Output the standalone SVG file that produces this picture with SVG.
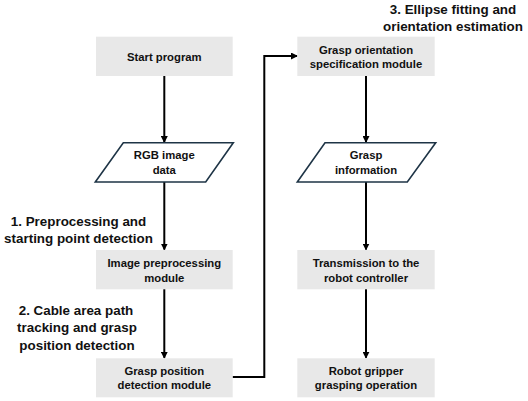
<svg xmlns="http://www.w3.org/2000/svg" width="528" height="401" viewBox="0 0 528 401">
<defs>
<marker id="ah" markerWidth="7" markerHeight="7" refX="6" refY="3.5" orient="auto" markerUnits="userSpaceOnUse">
<path d="M0,0 L7,3.5 L0,7 Z" fill="#000"/>
</marker>
<style>
.box{fill:#e8e8e8;}
.para{fill:#fff;stroke:#1e3446;stroke-width:1.6;}
.t{font-family:"Liberation Sans",Arial,sans-serif;font-weight:bold;font-size:11.3px;fill:#111;text-anchor:middle;dominant-baseline:central;}
.lab{font-family:"Liberation Sans",Arial,sans-serif;font-weight:bold;font-size:13.4px;fill:#111;text-anchor:middle;dominant-baseline:central;}
.c{fill:none;stroke:#000;stroke-width:2;}
</style>
</defs>
<rect width="528" height="401" fill="#fff"/>
<g id="connectors">
<line class="c" x1="164.3" y1="76" x2="164.3" y2="142" marker-end="url(#ah)"/>
<line class="c" x1="164.3" y1="182" x2="164.3" y2="249.5" marker-end="url(#ah)"/>
<line class="c" x1="164.3" y1="289" x2="164.3" y2="357.8" marker-end="url(#ah)"/>
<polyline class="c" points="232.5,377 264.3,377 264.3,56 297,56" marker-end="url(#ah)"/>
<line class="c" x1="366" y1="76" x2="366" y2="142" marker-end="url(#ah)"/>
<line class="c" x1="366" y1="182" x2="366" y2="249.5" marker-end="url(#ah)"/>
<line class="c" x1="366" y1="289" x2="366" y2="357.8" marker-end="url(#ah)"/>
</g>
<g id="start">
<rect class="box" x="96" y="36.7" width="136.7" height="39.3"/>
<text class="t" x="164.3" y="56.5">Start program</text>
</g>
<g id="rgb">
<polygon class="para" points="123.3,142.7 233.3,142.7 205.7,182 95.3,182"/>
<text class="t" x="164.3" y="155.3">RGB image</text>
<text class="t" x="164.3" y="169.8">data</text>
</g>
<g id="preproc">
<rect class="box" x="96" y="250" width="136.7" height="39.3"/>
<text class="t" x="164.3" y="263">Image preprocessing</text>
<text class="t" x="164.3" y="277.6">module</text>
</g>
<g id="graspPos">
<rect class="box" x="96" y="358.3" width="136.7" height="39"/>
<text class="t" x="164.3" y="371.4">Grasp position</text>
<text class="t" x="164.3" y="385.4">detection module</text>
</g>
<g id="graspOri">
<rect class="box" x="297.3" y="36.7" width="137.4" height="39.3"/>
<text class="t" x="366" y="49.8">Grasp orientation</text>
<text class="t" x="366" y="63.5">specification module</text>
</g>
<g id="graspInfo">
<polygon class="para" points="325,142.7 435.7,142.7 407.3,182 297.3,182"/>
<text class="t" x="366" y="155.3">Grasp</text>
<text class="t" x="366" y="169.8">information</text>
</g>
<g id="transmission">
<rect class="box" x="297.3" y="250" width="137.4" height="39.3"/>
<text class="t" x="366" y="263">Transmission to the</text>
<text class="t" x="366" y="277.6">robot controller</text>
</g>
<g id="gripper">
<rect class="box" x="297.3" y="358.3" width="137.4" height="39"/>
<text class="t" x="366" y="371.4">Robot gripper</text>
<text class="t" x="366" y="385.4">grasping operation</text>
</g>
<g id="labels">
<text class="lab" x="78.5" y="221">1. Preprocessing and</text>
<text class="lab" x="78.5" y="238.3">starting point detection</text>
<text class="lab" x="76" y="310">2. Cable area path</text>
<text class="lab" x="77" y="327.5">tracking and grasp</text>
<text class="lab" x="77" y="345">position detection</text>
<text class="lab" x="453" y="9.5">3. Ellipse fitting and</text>
<text class="lab" x="453" y="26.8">orientation estimation</text>
</g>
</svg>
